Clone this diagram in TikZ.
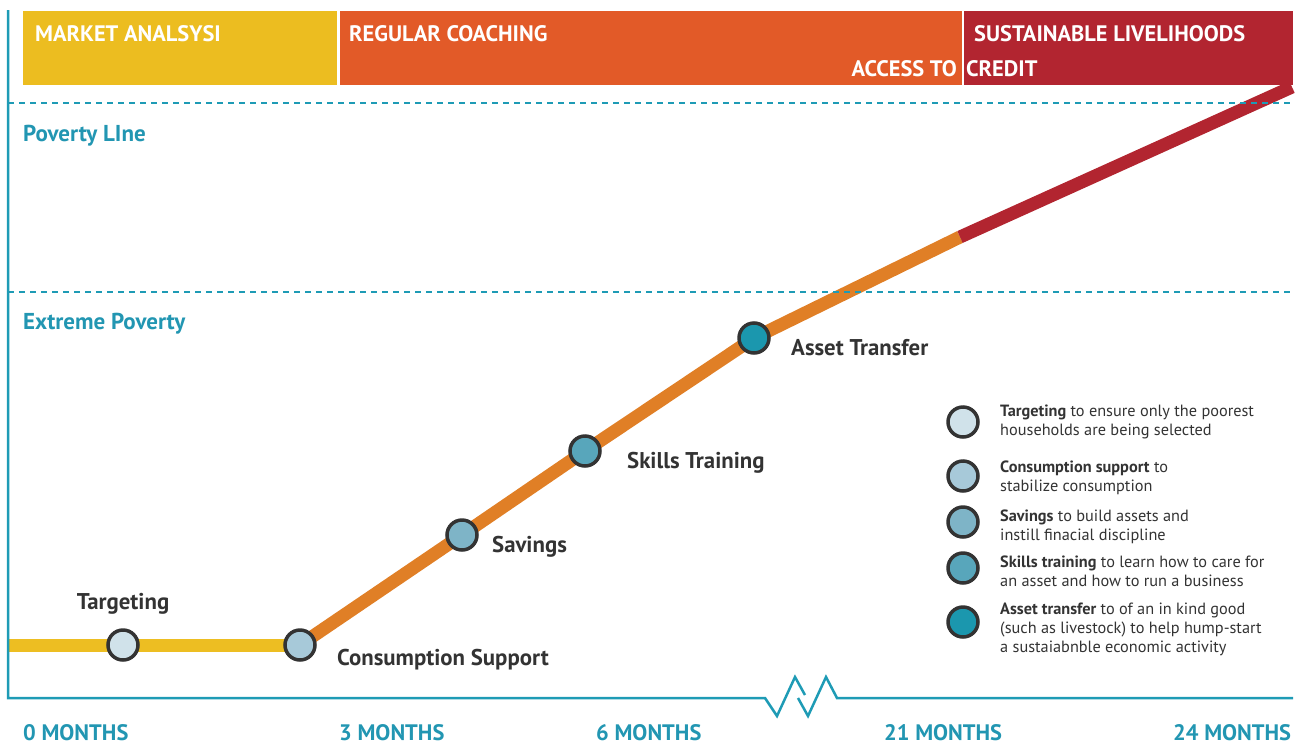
\documentclass[tikz,border=0pt]{standalone}
\usepackage{fontspec}
\setmainfont{PT Sans}
\usetikzlibrary{backgrounds}
\definecolor{tealax}{HTML}{1E9BB5}
\definecolor{tealtx}{HTML}{2296B2}
\definecolor{barY}{HTML}{ECBD20}
\definecolor{barO}{HTML}{E25A28}
\definecolor{barR}{HTML}{B22530}
\definecolor{pathY}{HTML}{EDBE22}
\definecolor{pathO}{HTML}{E07F26}
\definecolor{dark}{HTML}{333333}
\definecolor{cA}{HTML}{D0E2EA}
\definecolor{cB}{HTML}{A7C9D9}
\definecolor{cC}{HTML}{7EB4C7}
\definecolor{cD}{HTML}{58A6BB}
\definecolor{cE}{HTML}{1B97AE}
\begin{document}
\begin{tikzpicture}[x=1pt,y=-1pt,
  bar/.style={inner sep=0pt, anchor=north west, minimum height=74pt},
  bartext/.style={text=white, font=\fontsize{22.4}{26}\selectfont\bfseries, inner sep=0pt, anchor=base west},
  levellbl/.style={text=tealtx, font=\fontsize{23}{27}\selectfont\bfseries, inner sep=0pt, anchor=base west},
  monthlbl/.style={text=tealtx, font=\fontsize{22.4}{26}\selectfont\bfseries, inner sep=0pt, anchor=base west},
  stagelbl/.style={text=dark, font=\fontsize{22.8}{27}\selectfont\bfseries, inner sep=0pt, anchor=base west},
  milestone/.style={circle, draw=dark, line width=3.5pt, minimum size=30pt, inner sep=0pt},
  legtext/.style={text=dark, font=\fontsize{16.3}{19}\selectfont, inner sep=0pt, anchor=base west, align=left},
  axisline/.style={draw=tealax, line width=2.5pt},
  levelline/.style={draw=tealax, line width=2.2pt, dash pattern=on 6pt off 5pt},
  route/.style={line width=13pt}
]
\useasboundingbox (0,0) rectangle (1301,745);

% header bars
\node[bar, fill=barY, minimum width=314pt] (bY) at (23,11) {};
\node[bar, fill=barO, minimum width=622pt] (bO) at (340,11) {};
\node[bar, fill=barR, minimum width=329pt] (bR) at (964,11) {};
\node[bartext] (tMA) at (35,41) {MARKET ANALSYSI};
\node[bartext] (tRC) at (349,41) {REGULAR COACHING};
\node[bartext] (tSL) at (974,41) {SUSTAINABLE LIVELIHOODS};
\node[bartext, anchor=base east] (tAT) at (957,76) {ACCESS TO};
\node[bartext] (tCR) at (966,76) {CREDIT};

% axes
\coordinate (axTop) at (8,10);
\coordinate (axO) at (8,698);
\coordinate (z1) at (765,698);
\coordinate (z2) at (777,716);
\coordinate (z3) at (795,677);
\coordinate (z4) at (805,695);
\coordinate (z5) at (798,698);
\coordinate (z6) at (808,716);
\coordinate (z7) at (826,677);
\coordinate (z8) at (837,698);
\coordinate (axEnd) at (1293,698);
\draw[axisline, line join=miter] (axTop) -- (axO) -- (z1) -- (z2) -- (z3) -- (z4);
\draw[axisline, line join=miter] (z5) -- (z6) -- (z7) -- (z8) -- (axEnd);

% level lines
\coordinate (pvL) at (8,103);
\coordinate (pvR) at (1293,103);
\coordinate (epL) at (8,292);
\coordinate (epR) at (1293,292);
\draw[levelline] (pvL) -- (pvR);
\draw[levelline] (epL) -- (epR);
\node[levellbl] (lPov) at (23,141) {Poverty LIne};
\node[levellbl] (lExt) at (23,329) {Extreme Poverty};

% milestones
\node[milestone, fill=cA] (t) at (123,645) {};
\node[milestone, fill=cB] (cs) at (300,645) {};
\node[milestone, fill=cC] (sv) at (462,535) {};
\node[milestone, fill=cD] (sk) at (585,451) {};
\node[milestone, fill=cE] (at) at (754,338) {};
\coordinate (rStart) at (8,645);
\coordinate (jr) at (960,237);
\coordinate (rEnd) at (1292,87);
\begin{scope}[on background layer]
\draw[route, draw=pathY] (rStart) -- (t.center) -- (cs.center);
\draw[route, draw=pathO, line join=round] (cs.center) -- (sv.center) -- (sk.center) -- (at.center) -- (jr);
\draw[route, draw=barR] (jr) -- (rEnd);
\end{scope}

\node[stagelbl, anchor=base] (lT) at (123,609) {Targeting};
\node[stagelbl] (lCS) at (337,665) {Consumption Support};
\node[stagelbl] (lSV) at (492,552) {Savings};
\node[stagelbl] (lSK) at (627,468) {Skills Training};
\node[stagelbl] (lAT) at (791,355) {Asset Transfer};

% legend
\node[milestone, fill=cA] (g1) at (963,422) {};
\node[milestone, fill=cB] (g2) at (963,476) {};
\node[milestone, fill=cC] (g3) at (963,522) {};
\node[milestone, fill=cD] (g4) at (963,568) {};
\node[milestone, fill=cE] (g5) at (963,622) {};
\node[legtext] (x1) at (1000,435) {\textbf{Targeting} to ensure only the poorest\\households are being selected};
\node[legtext] (x2) at (1000,491) {\textbf{Consumption support} to\\stabilize consumption};
\node[legtext] (x3) at (1000,540) {\textbf{Savings} to build assets and\\instill finacial discipline};
\node[legtext] (x4) at (1000,586) {\textbf{Skills training} to learn how to care for\\an asset and how to run a business};
\node[legtext] (x5) at (1000,652) {\textbf{Asset transfer} to of an in kind good\\(such as livestock) to help hump-start\\a sustaiabnble economic activity};

% months
\node[monthlbl] (m0) at (23,740) {0 MONTHS};
\node[monthlbl] (m3) at (339,740) {3 MONTHS};
\node[monthlbl] (m6) at (596,740) {6 MONTHS};
\node[monthlbl] (m21) at (884,740) {21 MONTHS};
\node[monthlbl] (m24) at (1173,740) {24 MONTHS};
\end{tikzpicture}
\end{document}
